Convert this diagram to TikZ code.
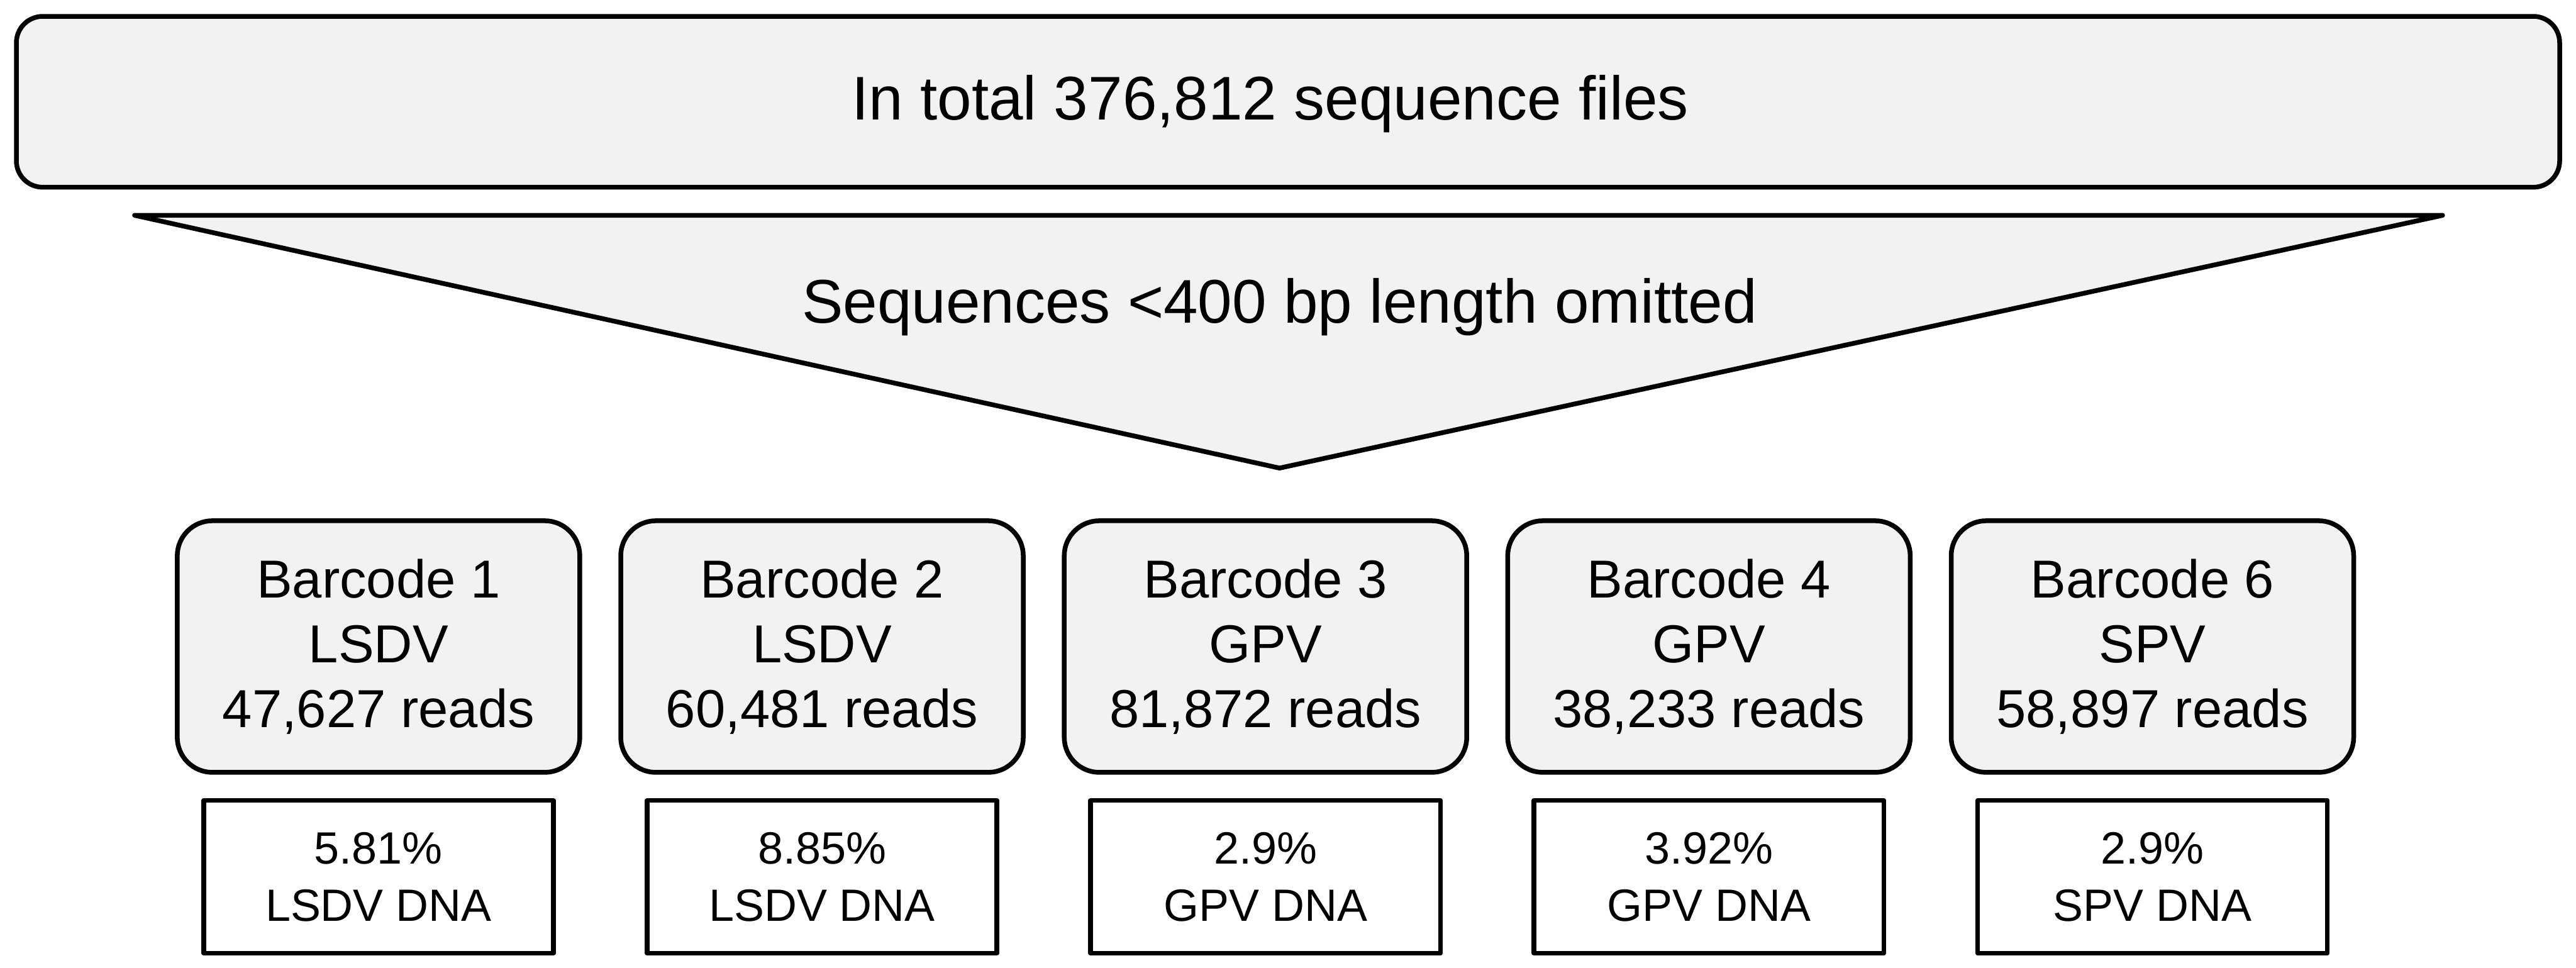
\documentclass[tikz,border=0pt]{standalone}
\usepackage{fontspec}
\setmainfont{Liberation Sans}
\usetikzlibrary{positioning}
\definecolor{boxgray}{RGB}{242,242,242}

\begin{document}
\begin{tikzpicture}[
    line width=2.3pt, line join=round,
    totalbox/.style={draw,fill=boxgray,rounded corners=0.45cm,
      minimum width=43.47cm,minimum height=2.92cm},
    barcodebox/.style={draw,fill=boxgray,rounded corners=0.6cm,
      minimum width=6.88cm,minimum height=4.30cm,align=center,
      font=\fontsize{26}{31.5}\selectfont},
    dnabox/.style={draw,fill=white,minimum width=5.98cm,minimum height=2.61cm,
      align=center,font=\fontsize{22}{27.9}\selectfont},
    bigtext/.style={font=\fontsize{30}{36}\selectfont}]
  \useasboundingbox (0,0) rectangle (44.03,16.54);
  \node[totalbox] (total) at (22.015,14.80) {};
  \node[bigtext] (totaltext) at (21.71,14.76) {In total 376,812 sequence files};
  % funnel
  \coordinate (fl) at (2.30,12.86);
  \coordinate (fr) at (41.75,12.86);
  \coordinate (ftip) at (21.87,8.54);
  \draw[fill=boxgray] (fl) -- (fr) -- (ftip) -- cycle;
  \node[bigtext] (omit) at (21.87,11.29) {Sequences <400 bp length omitted};
  % barcodes
  \foreach \k/\bc/\vir/\rd/\pc in {0/1/LSDV/{47,627}/5.81, 1/2/LSDV/{60,481}/8.85,
      2/3/GPV/{81,872}/2.9, 3/4/GPV/{38,233}/3.92, 4/6/SPV/{58,897}/2.9} {
    \node[barcodebox] (bc\bc) at ({6.47+7.58*\k},5.49) {Barcode \bc\\\vir\\\rd{} reads};
    \node[dnabox,below=0.40cm of bc\bc] (dna\bc) {\pc\%\\\vir{} DNA};
  }
\end{tikzpicture}
\end{document}
